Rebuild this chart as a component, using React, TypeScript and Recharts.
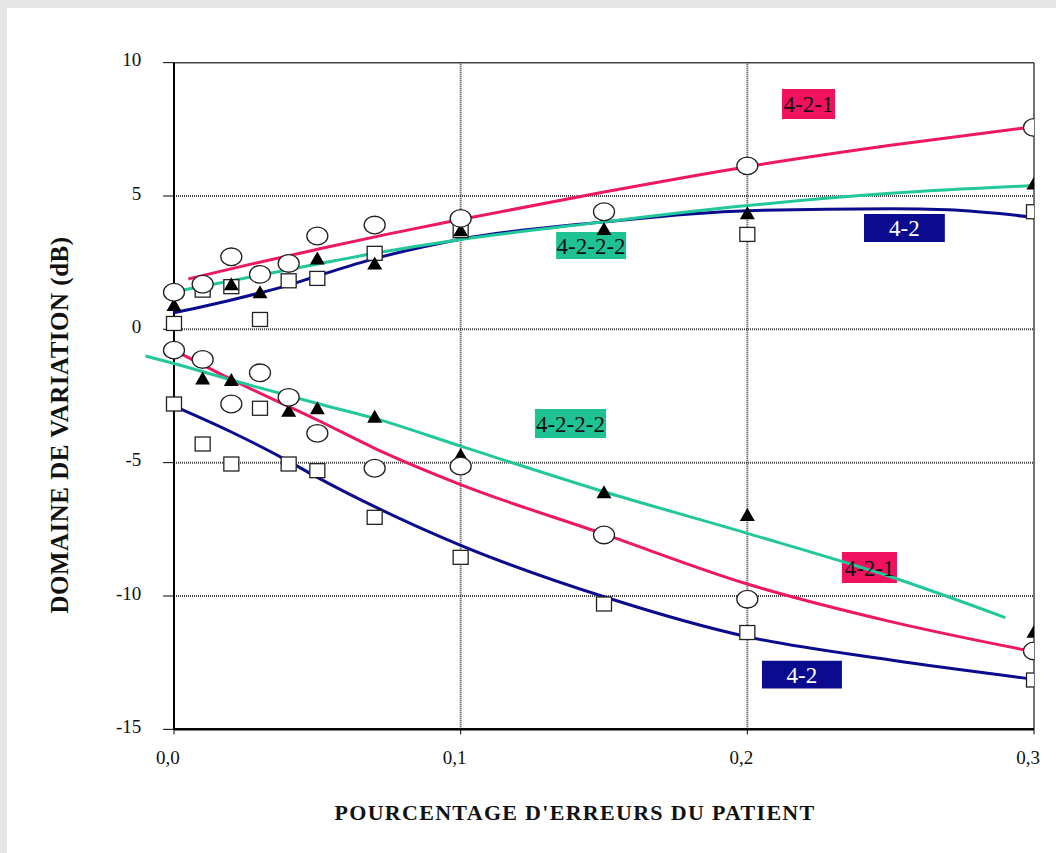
import React from 'react';
import { ComposedChart, Line, Scatter, XAxis, YAxis, ReferenceLine, ReferenceArea } from 'recharts';

// ---- measured points ----
const xValues = [0, 0.01, 0.02, 0.03, 0.04, 0.05, 0.07, 0.1, 0.15, 0.2, 0.3];
const upperCircle = [1.39, 1.69, 2.72, 2.06, 2.47, 3.5, 3.91, 4.16, 4.41, 6.13, 7.57];
const upperTriangle = [0.91, null, 1.69, 1.39, null, 2.66, 2.47, 3.72, 3.76, 4.35, 5.47];
const upperSquare = [0.22, 1.47, 1.6, 0.37, 1.82, 1.91, 2.85, 3.7, null, 3.56, 4.41];
const lowerCircle = [-0.78, -1.13, -2.8, -1.63, -2.55, -3.9, -5.21, -5.13, -7.71, -10.12, -12.06];
const lowerTriangle = [null, -1.84, -1.9, null, -3.05, -2.96, -3.28, -4.71, -6.11, -6.96, -11.34];
const lowerSquare = [-2.8, -4.3, -5.05, -2.96, -5.05, -5.3, -7.05, -8.55, -10.3, -11.37, -13.15];

// ---- fitted curves ----
const up421X = [0.005, 0.025, 0.05, 0.075, 0.1, 0.15, 0.2, 0.25, 0.3];
const up421Y = [1.89, 2.4, 3.0, 3.58, 4.12, 5.15, 6.1, 6.9, 7.6];
const up4222X = [0.002, 0.02, 0.05, 0.07, 0.1, 0.15, 0.2, 0.25, 0.3];
const up4222Y = [1.45, 1.82, 2.45, 2.85, 3.37, 4.03, 4.64, 5.1, 5.39];
const up42X = [0, 0.02, 0.04, 0.05, 0.07, 0.1, 0.15, 0.2, 0.25, 0.27, 0.3];
const up42Y = [0.62, 1.1, 1.66, 2.0, 2.65, 3.38, 4.03, 4.45, 4.52, 4.48, 4.2];
const low421X = [0, 0.02, 0.05, 0.07, 0.1, 0.15, 0.2, 0.25, 0.3];
const low421Y = [-0.78, -1.88, -3.4, -4.46, -5.82, -7.68, -9.55, -10.96, -12.09];
const low4222X = [-0.01, 0, 0.02, 0.05, 0.07, 0.1, 0.15, 0.2, 0.25, 0.29];
const low4222Y = [-1.0, -1.28, -1.9, -2.78, -3.34, -4.38, -6.09, -7.65, -9.28, -10.81];
const low42X = [0, 0.02, 0.04, 0.05, 0.07, 0.1, 0.15, 0.2, 0.25, 0.3];
const low42Y = [-2.88, -3.85, -4.95, -5.55, -6.65, -8.1, -10.03, -11.53, -12.4, -13.12];

// ---- axes ----
const xTicks = [0, 0.1, 0.2, 0.3];
const xTickLabels = ['0,0', '0,1', '0,2', '0,3'];
const yTicks = [-15, -10, -5, 0, 5, 10];
const yGrid = [-10, -5, 0, 5];
const xGrid = [0.1, 0.2];

// ---- series labels (data-space boxes) ----
const labelNames = ['4-2-1', '4-2-2-2', '4-2', '4-2-2-2', '4-2-1', '4-2'];
const labelX1 = [0.2121, 0.1333, 0.2407, 0.1259, 0.233, 0.2051];
const labelX2 = [0.2306, 0.1577, 0.2689, 0.1507, 0.2522, 0.233];
const labelY1 = [7.885, 2.636, 3.273, -4.076, -9.51, -13.47];
const labelY2 = [9.01, 3.648, 4.323, -2.988, -8.35, -12.43];

const PINK = '#ee1763';
const GREEN = '#22c89b';
const BLUE = '#0b0b8e';
const boxFill = { '4-2-1': '#f0115f', '4-2-2-2': '#1fc393', '4-2': '#0b0b90' } as Record<string, string>;
const boxText = { '4-2-1': '#111', '4-2-2-2': '#111', '4-2': '#fff' } as Record<string, string>;

const FONT = '"Liberation Serif", "DejaVu Serif", serif';

const pts = (xs: number[], ys: (number | null)[]) =>
  xs.map((x, i) => ({ x, y: ys[i] })).filter((p) => p.y !== null && p.y !== undefined);

const CircleShape = (p: any) => (
  <ellipse cx={p.cx} cy={p.cy} rx={10.5} ry={8.8} fill="#fff" stroke="#222" strokeWidth={1.3} />
);
const SquareShape = (p: any) => (
  <rect x={p.cx - 7.5} y={p.cy - 7} width={15} height={14} fill="#fff" stroke="#222" strokeWidth={1.3} />
);
const TriangleShape = (p: any) => (
  <polygon
    points={`${p.cx},${p.cy - 7} ${p.cx + 7.5},${p.cy + 6} ${p.cx - 7.5},${p.cy + 6}`}
    fill="#000"
  />
);

const gridStroke = { stroke: '#444', strokeWidth: 2, strokeDasharray: '1 1' };

export default function App() {
  return (
    <div style={{ position: 'absolute', left: 0, top: 0, width: 1056, height: 853, background: '#e5e5e5', overflow: 'hidden' }}>
      <div style={{ position: 'absolute', left: 7, top: 8, width: 1049, height: 845, background: '#fff' }} />
      <div style={{ position: 'absolute', left: 0, top: 0 }}>
        <ComposedChart
          width={1056}
          height={853}
          margin={{ top: 62.67, right: 22, bottom: 93.67, left: 85.33 }}
          style={{ fontFamily: FONT }}
        >
          <XAxis
            type="number"
            dataKey="x"
            domain={[-0.01, 0.3]}
            allowDataOverflow
            ticks={xTicks}
            tickFormatter={(v: number) => xTickLabels[xTicks.indexOf(v)]}
            axisLine={false}
            tickLine={{ stroke: '#000', strokeWidth: 1 }}
            tickSize={5}
            tickMargin={16}
            height={30}
            tick={{ fontFamily: FONT, fontSize: 19, fill: '#111', dx: -6 }}
          />
          <YAxis
            type="number"
            dataKey="y"
            domain={[-15, 10]}
            allowDataOverflow
            ticks={yTicks}
            axisLine={false}
            tickLine={false}
            tickMargin={-2}
            width={60}
            tick={{ fontFamily: FONT, fontSize: 19, fill: '#111', dy: -3 }}
          />

          {/* gridlines */}
          {xGrid.map((v) => (
            <ReferenceLine key={'gx' + v} x={v} {...gridStroke} />
          ))}
          {yGrid.map((v) => (
            <ReferenceLine key={'gy' + v} segment={[{ x: 0, y: v }, { x: 0.3, y: v }]} {...gridStroke} />
          ))}
          {yTicks.map((v) => (
            <ReferenceLine key={'ty' + v} segment={[{ x: -0.0038, y: v }, { x: 0, y: v }]} stroke="#000" strokeWidth={1} />
          ))}
          {/* frame */}
          <ReferenceLine segment={[{ x: 0, y: 10 }, { x: 0.3, y: 10 }]} stroke="#444" strokeWidth={1.5} />
          <ReferenceLine x={0.3} stroke="#444" strokeWidth={1.5} />
          <ReferenceLine x={0} stroke="#000" strokeWidth={2} />
          <ReferenceLine segment={[{ x: 0, y: -15 }, { x: 0.3, y: -15 }]} stroke="#000" strokeWidth={2.5} />

          {/* markers */}
          <Scatter data={pts(xValues, upperSquare)} shape={SquareShape} isAnimationActive={false} />
          <Scatter data={pts(xValues, lowerSquare)} shape={SquareShape} isAnimationActive={false} />
          <Scatter data={pts(xValues, upperTriangle)} shape={TriangleShape} isAnimationActive={false} />
          <Scatter data={pts(xValues, lowerTriangle)} shape={TriangleShape} isAnimationActive={false} />
          <Scatter data={pts(xValues, upperCircle)} shape={CircleShape} isAnimationActive={false} />
          <Scatter data={pts(xValues, lowerCircle)} shape={CircleShape} isAnimationActive={false} />

          {/* fitted curves */}
          <Line data={pts(up42X, up42Y)} dataKey="y" type="monotone" stroke={BLUE} strokeWidth={3} dot={false} isAnimationActive={false} />
          <Line data={pts(up4222X, up4222Y)} dataKey="y" type="monotone" stroke={GREEN} strokeWidth={3} dot={false} isAnimationActive={false} />
          <Line data={pts(up421X, up421Y)} dataKey="y" type="monotone" stroke={PINK} strokeWidth={3} dot={false} isAnimationActive={false} />
          <Line data={pts(low42X, low42Y)} dataKey="y" type="monotone" stroke={BLUE} strokeWidth={3} dot={false} isAnimationActive={false} />
          <Line data={pts(low421X, low421Y)} dataKey="y" type="monotone" stroke={PINK} strokeWidth={3} dot={false} isAnimationActive={false} />
          <Line data={pts(low4222X, low4222Y)} dataKey="y" type="monotone" stroke={GREEN} strokeWidth={3} dot={false} isAnimationActive={false} />

          {/* series labels */}
          {labelNames.map((name, i) => (
            <ReferenceArea
              key={'lab' + i}
              x1={labelX1[i]}
              x2={labelX2[i]}
              y1={labelY1[i]}
              y2={labelY2[i]}
              fill={boxFill[name]}
              fillOpacity={1}
              stroke="none"
              label={{ value: name, position: 'center', fill: boxText[name], fontSize: 23, fontFamily: FONT }}
            />
          ))}
        </ComposedChart>
      </div>
      <div
        style={{
          position: 'absolute',
          left: 60,
          top: 425,
          transform: 'translate(-50%, -50%) rotate(-90deg)',
          whiteSpace: 'nowrap',
          fontFamily: FONT,
          fontWeight: 'bold',
          fontSize: 25,
          letterSpacing: 0.5,
          color: '#111',
        }}
      >
        DOMAINE DE VARIATION (dB)
      </div>
      <div
        style={{
          position: 'absolute',
          left: 575,
          top: 813,
          transform: 'translate(-50%, -50%)',
          whiteSpace: 'nowrap',
          fontFamily: FONT,
          fontWeight: 'bold',
          fontSize: 22,
          letterSpacing: 1.3,
          color: '#111',
        }}
      >
        POURCENTAGE D'ERREURS DU PATIENT
      </div>
    </div>
  );
}
